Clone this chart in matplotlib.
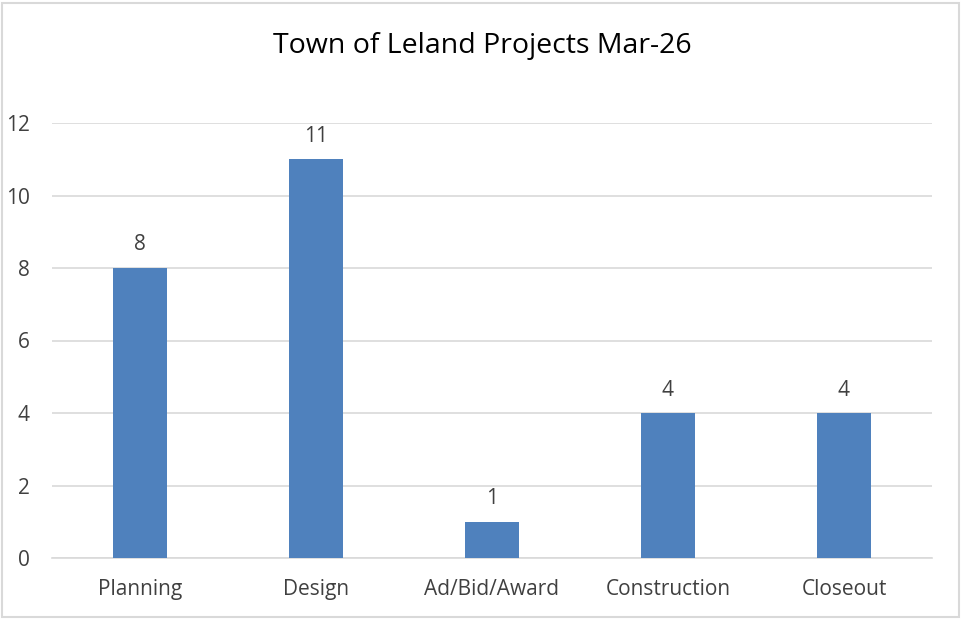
import matplotlib
matplotlib.use("Agg")
import matplotlib.pyplot as plt
from matplotlib.patches import Rectangle

categories = ["Planning", "Design", "Ad/Bid/Award", "Construction", "Closeout"]
values = [8, 11, 1, 4, 4]
yticks = [0, 2, 4, 6, 8, 10, 12]
title = "Town of Leland Projects Mar-26"

plt.rcParams['font.family'] = ['Open Sans', 'DejaVu Sans']

W, H = 961, 619
fig = plt.figure(figsize=(W / 100, H / 100), dpi=100)
fig.patch.set_facecolor("white")

# figure border
fig.add_artist(Rectangle((2 / W, 2 / H), (W - 4) / W, (H - 5) / H,
                         transform=fig.transFigure, fill=False,
                         edgecolor="#D9D9D9", linewidth=1.5))

left, right = 52, 932
top, bottom = 123, 558
ax = fig.add_axes([left / W, 1 - bottom / H, (right - left) / W, (bottom - top) / H])

x = list(range(len(categories)))
ax.bar(x, values, width=0.31, color="#4F81BD", zorder=3)
ax.set_xlim(-0.5, len(categories) - 0.5)
ax.set_ylim(0, 12)
ax.set_yticks(yticks)
ax.set_xticks(x)
ax.set_xticklabels(categories)
ax.grid(axis="y", color="#D9D9D9", linewidth=1.2, zorder=0)
for s in ["top", "right", "left"]:
    ax.spines[s].set_visible(False)
ax.spines["bottom"].set_color("#D9D9D9")
ax.spines["bottom"].set_linewidth(1.2)
ax.tick_params(axis="both", length=0, labelsize=15, colors="#404040")
ax.tick_params(axis="x", pad=15)
ax.tick_params(axis="y", pad=16)

for xi, v in zip(x, values):
    ax.annotate(str(v), (xi, v), xytext=(0, 9), textcoords="offset points",
                ha="center", va="bottom", fontsize=15, color="#404040")

fig.text(482 / W, 1 - 46 / H, title, ha="center", va="center", fontsize=20.5, color="#000000")

fig.savefig("out.png", dpi=100)
